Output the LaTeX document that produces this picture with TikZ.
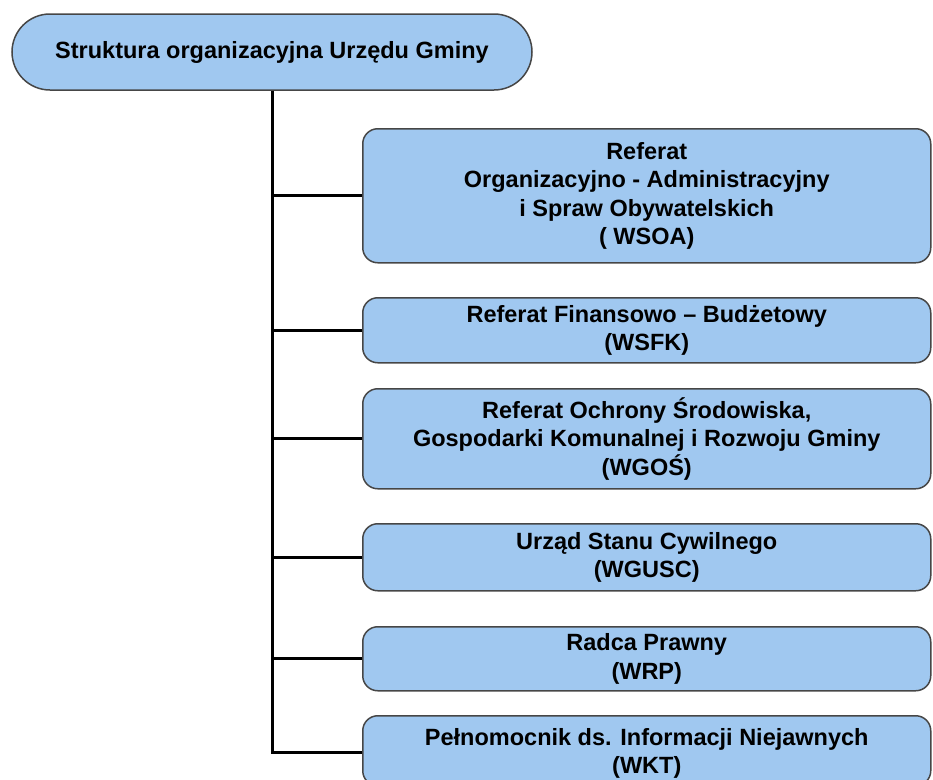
\documentclass[tikz,border=0pt]{standalone}
\usepackage{fontspec}
\setmainfont{Liberation Sans}
\usetikzlibrary{positioning}
\definecolor{boxblue}{RGB}{160,200,240}
\definecolor{boxline}{RGB}{70,70,70}
\begin{document}
\begin{tikzpicture}[x=1pt, y=-1pt,
	unit/.style = {draw=boxline, line width=1.5pt, fill=boxblue, rounded corners=15pt, anchor=north west,
		minimum width=568pt, align=center, inner sep=0pt, font=\fontsize{23.5}{28.5}\selectfont\bfseries},
	link/.style = {line width=3pt}]
	\clip (0,0) rectangle (933,779);
	\node [draw=boxline, line width=1.5pt, fill=boxblue, rounded corners=38pt, minimum width=520pt, minimum height=76pt,
		font=\fontsize{23.5}{28.5}\selectfont\bfseries] (top) at (272,52) {Struktura organizacyjna Urzędu Gminy};
	\node [unit, minimum height=134pt] (wsoa) at (362,128) {Referat\\Organizacyjno - Administracyjny\\i Spraw Obywatelskich\\( WSOA)};
	\node [unit, minimum height=65pt] (wsfk) at (362,297) {Referat Finansowo -- Budżetowy\\(WSFK)};
	\node [unit, minimum height=100pt] (wgos) at (362,388) {Referat Ochrony Środowiska,\\Gospodarki Komunalnej i Rozwoju Gminy\\(WGOŚ)};
	\node [unit, minimum height=67pt] (wgusc) at (362,523) {Urząd Stanu Cywilnego\\(WGUSC)};
	\node [unit, minimum height=64pt] (wrp) at (362,626) {Radca Prawny\\(WRP)};
	\node [unit, minimum height=70pt, text depth=0pt] (wkt) at (362,715) {Pełnomocnik ds. Informacji Niejawnych\\(WKT)};
	\draw [link] (top.south) |- ([yshift=-2pt]wkt.west);
	\foreach \n in {wsoa, wsfk, wgos, wgusc, wrp}
		\draw [link] (top.south |- \n.west) -- (\n.west);
\end{tikzpicture}
\end{document}
